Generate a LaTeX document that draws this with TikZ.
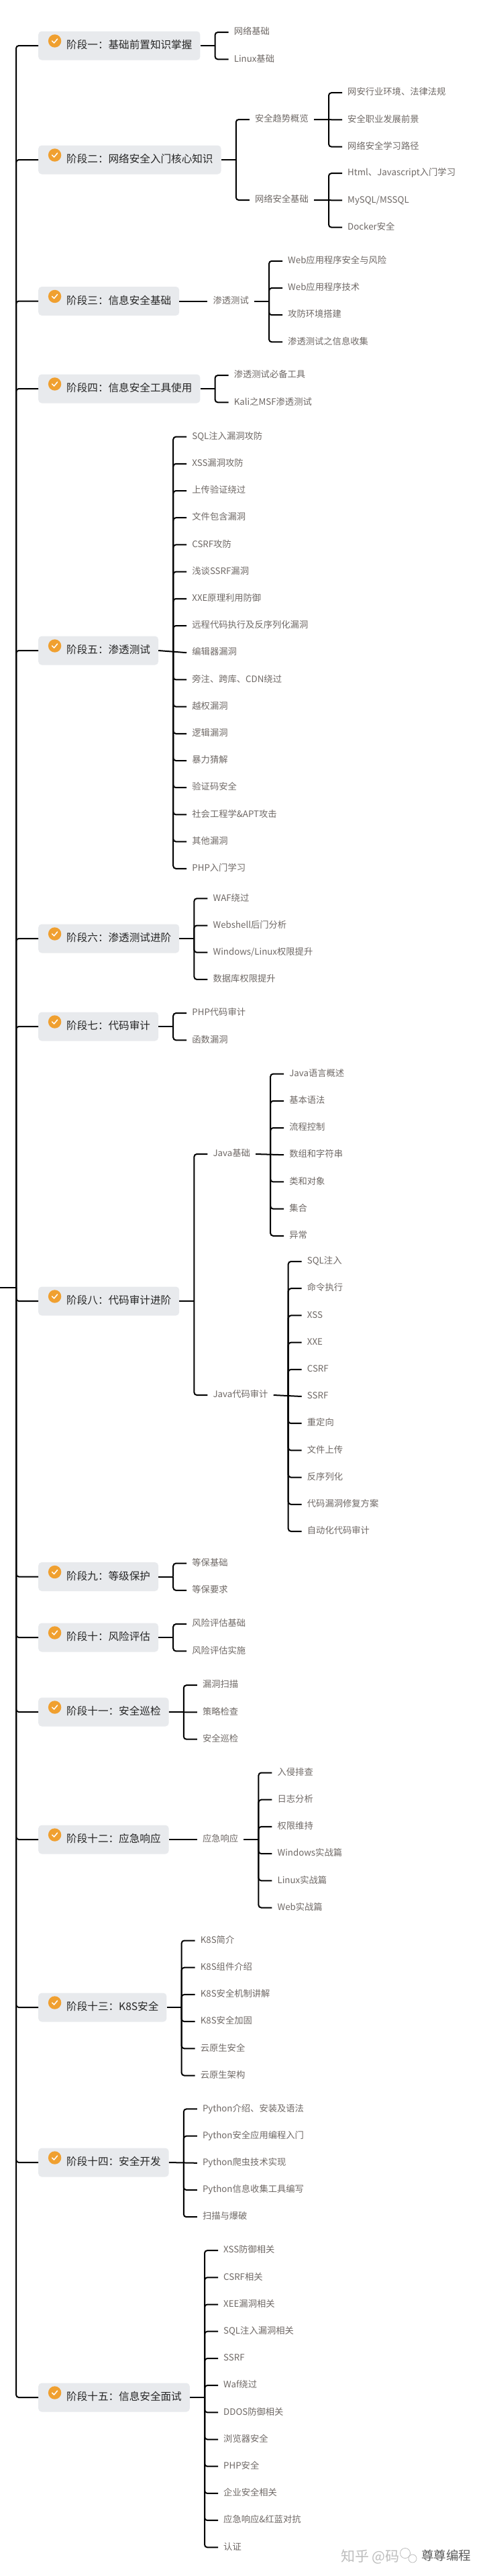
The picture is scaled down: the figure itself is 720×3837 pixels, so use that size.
\documentclass[tikz,border=0pt]{standalone}
\usepackage{fontspec}
\setmainfont{Noto Sans CJK SC}
\usepackage{xcolor}
\definecolor{Panel}{HTML}{E8EAED}
\definecolor{Ink}{HTML}{262626}
\definecolor{Soft}{HTML}{6E6865}
\definecolor{Badge}{HTML}{F0A030}
\definecolor{Ghost}{HTML}{BDBDBD}
\definecolor{Stamp}{HTML}{5A5A5A}
\usepackage{tikz}
\usetikzlibrary{positioning}
\tikzset{
  stage/.style={anchor=west,fill=Panel,rounded corners=5pt,minimum height=43pt,inner xsep=12pt,inner ysep=0pt,
    text height=12pt,text depth=3pt,text=Ink,font=\fontsize{15.6}{18}\selectfont,execute at begin node=\kern30pt},
  leaf/.style={anchor=west,minimum height=20pt,inner xsep=8pt,inner ysep=0pt,
    text height=10.5pt,text depth=3pt,text=Soft,font=\fontsize{13.3}{16}\selectfont},
  under/.style={below=19.8pt of #1.south west,anchor=north west},
  link/.style={line width=2pt,color=black,rounded corners=4pt},
  tickmark/.style={circle,fill=Badge,minimum size=19.4pt,inner sep=0pt,
    path picture={\draw[white,line width=1.5pt,line cap=round,line join=round,sharp corners]
      ([xshift=-4pt]path picture bounding box.center) -- ++(3pt,-3pt) -- ++(5pt,6pt);}},
  wmark/.style={anchor=west,inner sep=0pt,text=Ghost,font=\fontsize{21}{24}\selectfont},
  wbubble/.style={circle,draw=Ghost,fill=white,line width=.8pt,inner sep=0pt}
}
\begin{document}
\begin{tikzpicture}[x=1pt,y=-1pt]
  \useasboundingbox (0,0) rectangle (720,3837);
  \coordinate (rootin) at (0,1918);
  \coordinate (root) at (24,1918);

  \node[stage] (s1) at (57,68) {阶段一：基础前置知识掌握};
  \node[stage] (s2) at (57,238) {阶段二：网络安全入门核心知识};
  \node[stage] (s3) at (57,448.5) {阶段三：信息安全基础};
  \node[stage] (s4) at (57,579) {阶段四：信息安全工具使用};
  \node[stage] (s5) at (57,969) {阶段五：渗透测试};
  \node[stage] (s6) at (57,1398) {阶段六：渗透测试进阶};
  \node[stage] (s7) at (57,1529) {阶段七：代码审计};
  \node[stage] (s8) at (57,1938) {阶段八：代码审计进阶};
  \node[stage] (s9) at (57,2348.5) {阶段九：等级保护};
  \node[stage] (s10) at (57,2439) {阶段十：风险评估};
  \node[stage] (s11) at (57,2550) {阶段十一：安全巡检};
  \node[stage] (s12) at (57,2740) {阶段十二：应急响应};
  \node[stage] (s13) at (57,2990) {阶段十三：K8S安全};
  \node[stage] (s14) at (57,3221) {阶段十四：安全开发};
  \node[stage] (s15) at (57,3571) {阶段十五：信息安全面试};

  \node[tickmark] (t1) at ([xshift=24.6pt,yshift=7pt]s1.west) {};
  \node[tickmark] (t2) at ([xshift=24.6pt,yshift=7pt]s2.west) {};
  \node[tickmark] (t3) at ([xshift=24.6pt,yshift=7pt]s3.west) {};
  \node[tickmark] (t4) at ([xshift=24.6pt,yshift=7pt]s4.west) {};
  \node[tickmark] (t5) at ([xshift=24.6pt,yshift=7pt]s5.west) {};
  \node[tickmark] (t6) at ([xshift=24.6pt,yshift=7pt]s6.west) {};
  \node[tickmark] (t7) at ([xshift=24.6pt,yshift=7pt]s7.west) {};
  \node[tickmark] (t8) at ([xshift=24.6pt,yshift=7pt]s8.west) {};
  \node[tickmark] (t9) at ([xshift=24.6pt,yshift=7pt]s9.west) {};
  \node[tickmark] (t10) at ([xshift=24.6pt,yshift=7pt]s10.west) {};
  \node[tickmark] (t11) at ([xshift=24.6pt,yshift=7pt]s11.west) {};
  \node[tickmark] (t12) at ([xshift=24.6pt,yshift=7pt]s12.west) {};
  \node[tickmark] (t13) at ([xshift=24.6pt,yshift=7pt]s13.west) {};
  \node[tickmark] (t14) at ([xshift=24.6pt,yshift=7pt]s14.west) {};
  \node[tickmark] (t15) at ([xshift=24.6pt,yshift=7pt]s15.west) {};

  \draw[link] (rootin)--(root);
  \draw[link] (root) |- (s1.west);
  \draw[link] (root) |- (s2.west);
  \draw[link] (root) |- (s3.west);
  \draw[link] (root) |- (s4.west);
  \draw[link] (root) |- (s5.west);
  \draw[link] (root) |- (s6.west);
  \draw[link] (root) |- (s7.west);
  \draw[link] (root) |- (s8.west);
  \draw[link] (root) |- (s9.west);
  \draw[link] (root) |- (s10.west);
  \draw[link] (root) |- (s11.west);
  \draw[link] (root) |- (s12.west);
  \draw[link] (root) |- (s13.west);
  \draw[link] (root) |- (s14.west);
  \draw[link] (root) |- (s15.west);

  \coordinate (j1) at ([xshift=22pt]s1.east);
  \node[leaf] (s1a) at ([xshift=42pt,yshift=19.9pt]s1.east) {网络基础};
  \node[leaf,under=s1a] (s1b) {Linux基础};
  \draw[link] (s1.east)--(j1);
  \draw[link] (j1) |- (s1a.west);
  \draw[link] (j1) |- (s1b.west);

  \coordinate (j2) at ([xshift=22pt]s2.east);
  \node[leaf] (s2a) at ([xshift=42pt,yshift=60pt]s2.east) {安全趋势概览};
  \node[leaf] (s2b) at ([xshift=42pt,yshift=-60pt]s2.east) {网络安全基础};
  \draw[link] (s2.east)--(j2);
  \draw[link] (j2) |- (s2a.west);
  \draw[link] (j2) |- (s2b.west);
  \coordinate (j2a) at ([xshift=22pt]s2a.east);
  \node[leaf] (s2a1) at ([xshift=42pt,yshift=39.8pt]s2a.east) {网安行业环境、法律法规};
  \node[leaf,under=s2a1] (s2a2) {安全职业发展前景};
  \node[leaf,under=s2a2] (s2a3) {网络安全学习路径};
  \draw[link] (s2a.east)--(s2a2.west);
  \draw[link] (j2a) |- (s2a1.west);
  \draw[link] (j2a) |- (s2a3.west);
  \coordinate (j2b) at ([xshift=22pt]s2b.east);
  \node[leaf] (s2b1) at ([xshift=42pt,yshift=39.8pt]s2b.east) {Html、Javascript入门学习};
  \node[leaf,under=s2b1] (s2b2) {MySQL/MSSQL};
  \node[leaf,under=s2b2] (s2b3) {Docker安全};
  \draw[link] (s2b.east)--(s2b2.west);
  \draw[link] (j2b) |- (s2b1.west);
  \draw[link] (j2b) |- (s2b3.west);

  \node[leaf] (s3a) at ([xshift=42pt]s3.east) {渗透测试};
  \draw[link] (s3.east)--(s3a.west);
  \coordinate (j3) at ([xshift=22pt]s3a.east);
  \node[leaf] (s3a1) at ([xshift=42pt,yshift=59.7pt]s3a.east) {Web应用程序安全与风险};
  \node[leaf,under=s3a1] (s3a2) {Web应用程序技术};
  \node[leaf,under=s3a2] (s3a3) {攻防环境搭建};
  \node[leaf,under=s3a3] (s3a4) {渗透测试之信息收集};
  \draw[link] (s3a.east)--(j3);
  \draw[link] (j3) |- (s3a1.west);
  \draw[link] (j3) |- (s3a2.west);
  \draw[link] (j3) |- (s3a3.west);
  \draw[link] (j3) |- (s3a4.west);

  \coordinate (j4) at ([xshift=22pt]s4.east);
  \node[leaf] (s4a) at ([xshift=42pt,yshift=19.9pt]s4.east) {渗透测试必备工具};
  \node[leaf,under=s4a] (s4b) {Kali之MSF渗透测试};
  \draw[link] (s4.east)--(j4);
  \draw[link] (j4) |- (s4a.west);
  \draw[link] (j4) |- (s4b.west);

  \coordinate (j5) at ([xshift=22pt]s5.east);
  \node[leaf] (s5a) at ([xshift=42pt,yshift=318.4pt]s5.east) {SQL注入漏洞攻防};
  \node[leaf,under=s5a] (s5b) {XSS漏洞攻防};
  \node[leaf,under=s5b] (s5c) {上传验证绕过};
  \node[leaf,under=s5c] (s5d) {文件包含漏洞};
  \node[leaf,under=s5d] (s5e) {CSRF攻防};
  \node[leaf,under=s5e] (s5f) {浅谈SSRF漏洞};
  \node[leaf,under=s5f] (s5g) {XXE原理利用防御};
  \node[leaf,under=s5g] (s5h) {远程代码执行及反序列化漏洞};
  \node[leaf,under=s5h] (s5i) {编辑器漏洞};
  \node[leaf,under=s5i] (s5j) {旁注、跨库、CDN绕过};
  \node[leaf,under=s5j] (s5k) {越权漏洞};
  \node[leaf,under=s5k] (s5l) {逻辑漏洞};
  \node[leaf,under=s5l] (s5m) {暴力猜解};
  \node[leaf,under=s5m] (s5n) {验证码安全};
  \node[leaf,under=s5n] (s5o) {社会工程学\&APT攻击};
  \node[leaf,under=s5o] (s5p) {其他漏洞};
  \node[leaf,under=s5p] (s5q) {PHP入门学习};
  \draw[link] (s5.east)--(s5i.west);
  \draw[link] (j5) |- (s5a.west);
  \draw[link] (j5) |- (s5b.west);
  \draw[link] (j5) |- (s5c.west);
  \draw[link] (j5) |- (s5d.west);
  \draw[link] (j5) |- (s5e.west);
  \draw[link] (j5) |- (s5f.west);
  \draw[link] (j5) |- (s5g.west);
  \draw[link] (j5) |- (s5h.west);
  \draw[link] (j5) |- (s5j.west);
  \draw[link] (j5) |- (s5k.west);
  \draw[link] (j5) |- (s5l.west);
  \draw[link] (j5) |- (s5m.west);
  \draw[link] (j5) |- (s5n.west);
  \draw[link] (j5) |- (s5o.west);
  \draw[link] (j5) |- (s5p.west);
  \draw[link] (j5) |- (s5q.west);

  \coordinate (j6) at ([xshift=22pt]s6.east);
  \node[leaf] (s6a) at ([xshift=42pt,yshift=59.7pt]s6.east) {WAF绕过};
  \node[leaf,under=s6a] (s6b) {Webshell后门分析};
  \node[leaf,under=s6b] (s6c) {Windows/Linux权限提升};
  \node[leaf,under=s6c] (s6d) {数据库权限提升};
  \draw[link] (s6.east)--(j6);
  \draw[link] (j6) |- (s6a.west);
  \draw[link] (j6) |- (s6b.west);
  \draw[link] (j6) |- (s6c.west);
  \draw[link] (j6) |- (s6d.west);

  \coordinate (j7) at ([xshift=22pt]s7.east);
  \node[leaf] (s7a) at ([xshift=42pt,yshift=19.9pt]s7.east) {PHP代码审计};
  \node[leaf,under=s7a] (s7b) {函数漏洞};
  \draw[link] (s7.east)--(j7);
  \draw[link] (j7) |- (s7a.west);
  \draw[link] (j7) |- (s7b.west);

  \coordinate (j8) at ([xshift=22pt]s8.east);
  \node[leaf] (s8a) at ([xshift=42pt,yshift=219pt]s8.east) {Java基础};
  \node[leaf] (s8b) at ([xshift=42pt,yshift=-140pt]s8.east) {Java代码审计};
  \draw[link] (s8.east)--(j8);
  \draw[link] (j8) |- (s8a.west);
  \draw[link] (j8) |- (s8b.west);
  \coordinate (j8a) at ([xshift=22pt]s8a.east);
  \node[leaf] (s8a1) at ([xshift=42pt,yshift=119.4pt]s8a.east) {Java语言概述};
  \node[leaf,under=s8a1] (s8a2) {基本语法};
  \node[leaf,under=s8a2] (s8a3) {流程控制};
  \node[leaf,under=s8a3] (s8a4) {数组和字符串};
  \node[leaf,under=s8a4] (s8a5) {类和对象};
  \node[leaf,under=s8a5] (s8a6) {集合};
  \node[leaf,under=s8a6] (s8a7) {异常};
  \draw[link] (s8a.east)--(s8a4.west);
  \draw[link] (j8a) |- (s8a1.west);
  \draw[link] (j8a) |- (s8a2.west);
  \draw[link] (j8a) |- (s8a3.west);
  \draw[link] (j8a) |- (s8a5.west);
  \draw[link] (j8a) |- (s8a6.west);
  \draw[link] (j8a) |- (s8a7.west);
  \coordinate (j8b) at ([xshift=22pt]s8b.east);
  \node[leaf] (s8b1) at ([xshift=42pt,yshift=199pt]s8b.east) {SQL注入};
  \node[leaf,under=s8b1] (s8b2) {命令执行};
  \node[leaf,under=s8b2] (s8b3) {XSS};
  \node[leaf,under=s8b3] (s8b4) {XXE};
  \node[leaf,under=s8b4] (s8b5) {CSRF};
  \node[leaf,under=s8b5] (s8b6) {SSRF};
  \node[leaf,under=s8b6] (s8b7) {重定向};
  \node[leaf,under=s8b7] (s8b8) {文件上传};
  \node[leaf,under=s8b8] (s8b9) {反序列化};
  \node[leaf,under=s8b9] (s8b10) {代码漏洞修复方案};
  \node[leaf,under=s8b10] (s8b11) {自动化代码审计};
  \draw[link] (s8b.east)--(s8b6.west);
  \draw[link] (j8b) |- (s8b1.west);
  \draw[link] (j8b) |- (s8b2.west);
  \draw[link] (j8b) |- (s8b3.west);
  \draw[link] (j8b) |- (s8b4.west);
  \draw[link] (j8b) |- (s8b5.west);
  \draw[link] (j8b) |- (s8b7.west);
  \draw[link] (j8b) |- (s8b8.west);
  \draw[link] (j8b) |- (s8b9.west);
  \draw[link] (j8b) |- (s8b10.west);
  \draw[link] (j8b) |- (s8b11.west);

  \coordinate (j9) at ([xshift=22pt]s9.east);
  \node[leaf] (s9a) at ([xshift=42pt,yshift=19.9pt]s9.east) {等保基础};
  \node[leaf,under=s9a] (s9b) {等保要求};
  \draw[link] (s9.east)--(j9);
  \draw[link] (j9) |- (s9a.west);
  \draw[link] (j9) |- (s9b.west);

  \coordinate (j10) at ([xshift=22pt]s10.east);
  \node[leaf] (s10a) at ([xshift=42pt,yshift=19.9pt]s10.east) {风险评估基础};
  \node[leaf,under=s10a] (s10b) {风险评估实施};
  \draw[link] (s10.east)--(j10);
  \draw[link] (j10) |- (s10a.west);
  \draw[link] (j10) |- (s10b.west);

  \coordinate (j11) at ([xshift=22pt]s11.east);
  \node[leaf] (s11a) at ([xshift=42pt,yshift=39.8pt]s11.east) {漏洞扫描};
  \node[leaf,under=s11a] (s11b) {策略检查};
  \node[leaf,under=s11b] (s11c) {安全巡检};
  \draw[link] (s11.east)--(s11b.west);
  \draw[link] (j11) |- (s11a.west);
  \draw[link] (j11) |- (s11c.west);

  \node[leaf] (s12a) at ([xshift=42pt]s12.east) {应急响应};
  \draw[link] (s12.east)--(s12a.west);
  \coordinate (j12) at ([xshift=22pt]s12a.east);
  \node[leaf] (s12a1) at ([xshift=42pt,yshift=99.5pt]s12a.east) {入侵排查};
  \node[leaf,under=s12a1] (s12a2) {日志分析};
  \node[leaf,under=s12a2] (s12a3) {权限维持};
  \node[leaf,under=s12a3] (s12a4) {Windows实战篇};
  \node[leaf,under=s12a4] (s12a5) {Linux实战篇};
  \node[leaf,under=s12a5] (s12a6) {Web实战篇};
  \draw[link] (s12a.east)--(j12);
  \draw[link] (j12) |- (s12a1.west);
  \draw[link] (j12) |- (s12a2.west);
  \draw[link] (j12) |- (s12a3.west);
  \draw[link] (j12) |- (s12a4.west);
  \draw[link] (j12) |- (s12a5.west);
  \draw[link] (j12) |- (s12a6.west);

  \coordinate (j13) at ([xshift=22pt]s13.east);
  \node[leaf] (s13a) at ([xshift=42pt,yshift=99.5pt]s13.east) {K8S简介};
  \node[leaf,under=s13a] (s13b) {K8S组件介绍};
  \node[leaf,under=s13b] (s13c) {K8S安全机制讲解};
  \node[leaf,under=s13c] (s13d) {K8S安全加固};
  \node[leaf,under=s13d] (s13e) {云原生安全};
  \node[leaf,under=s13e] (s13f) {云原生架构};
  \draw[link] (s13.east)--(j13);
  \draw[link] (j13) |- (s13a.west);
  \draw[link] (j13) |- (s13b.west);
  \draw[link] (j13) |- (s13c.west);
  \draw[link] (j13) |- (s13d.west);
  \draw[link] (j13) |- (s13e.west);
  \draw[link] (j13) |- (s13f.west);

  \coordinate (j14) at ([xshift=22pt]s14.east);
  \node[leaf] (s14a) at ([xshift=42pt,yshift=79.6pt]s14.east) {Python介绍、安装及语法};
  \node[leaf,under=s14a] (s14b) {Python安全应用编程入门};
  \node[leaf,under=s14b] (s14c) {Python爬虫技术实现};
  \node[leaf,under=s14c] (s14d) {Python信息收集工具编写};
  \node[leaf,under=s14d] (s14e) {扫描与爆破};
  \draw[link] (s14.east)--(s14c.west);
  \draw[link] (j14) |- (s14a.west);
  \draw[link] (j14) |- (s14b.west);
  \draw[link] (j14) |- (s14d.west);
  \draw[link] (j14) |- (s14e.west);

  \coordinate (j15) at ([xshift=22pt]s15.east);
  \node[leaf] (s15a) at ([xshift=42pt,yshift=218.9pt]s15.east) {XSS防御相关};
  \node[leaf,under=s15a] (s15b) {CSRF相关};
  \node[leaf,under=s15b] (s15c) {XEE漏洞相关};
  \node[leaf,under=s15c] (s15d) {SQL注入漏洞相关};
  \node[leaf,under=s15d] (s15e) {SSRF};
  \node[leaf,under=s15e] (s15f) {Waf绕过};
  \node[leaf,under=s15f] (s15g) {DDOS防御相关};
  \node[leaf,under=s15g] (s15h) {浏览器安全};
  \node[leaf,under=s15h] (s15i) {PHP安全};
  \node[leaf,under=s15i] (s15j) {企业安全相关};
  \node[leaf,under=s15j] (s15k) {应急响应\&红蓝对抗};
  \node[leaf,under=s15k] (s15l) {认证};
  \draw[link] (s15.east)--(j15);
  \draw[link] (j15) |- (s15a.west);
  \draw[link] (j15) |- (s15b.west);
  \draw[link] (j15) |- (s15c.west);
  \draw[link] (j15) |- (s15d.west);
  \draw[link] (j15) |- (s15e.west);
  \draw[link] (j15) |- (s15f.west);
  \draw[link] (j15) |- (s15g.west);
  \draw[link] (j15) |- (s15h.west);
  \draw[link] (j15) |- (s15i.west);
  \draw[link] (j15) |- (s15j.west);
  \draw[link] (j15) |- (s15k.west);
  \draw[link] (j15) |- (s15l.west);

  \node[wmark] (wm1) at (508,3808) {知乎 @码};
  \node[wbubble,minimum size=15pt] (wm2) at (604,3803) {};
  \node[wbubble,minimum size=12pt] (wm3) at (615,3811) {};
  \node[wmark,text=Stamp,font=\fontsize{18.5}{22}\selectfont] (wm4) at (628,3806) {尊尊编程};
\end{tikzpicture}
\end{document}
